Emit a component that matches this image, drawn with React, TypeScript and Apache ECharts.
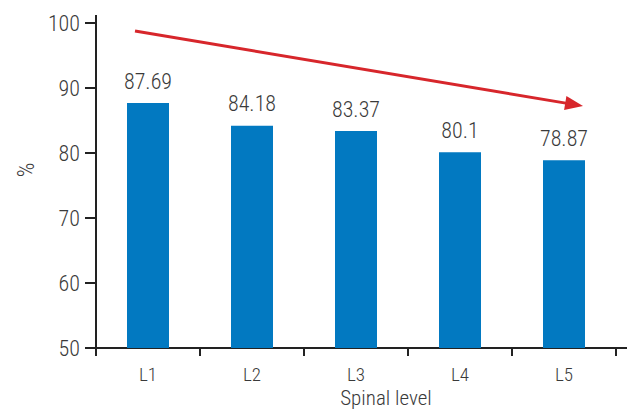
import React, { useEffect, useRef } from "react";
import * as echarts from "echarts";

const categories = ["L1", "L2", "L3", "L4", "L5"];
const values = [87.69, 84.18, 83.37, 80.1, 78.87];
const yTicks = { min: 50, max: 100, interval: 10 };

const FONT = "'Roboto Condensed', 'Liberation Sans', sans-serif";
const TEXT = "#3a3a3a";
const AXIS = "#222222";

export default function App() {
  const ref = useRef<HTMLDivElement>(null);
  useEffect(() => {
    if (!ref.current) return;
    const chart = echarts.init(ref.current, null, { renderer: "svg" });
    // arrow geometry
    const sx = 135, sy = 31, tx = 583, ty = 106;
    const dx = tx - sx, dy = ty - sy;
    const len = Math.sqrt(dx * dx + dy * dy);
    const ux = dx / len, uy = dy / len;
    const hl = 18, hw = 7;
    const bx = tx - ux * hl, by = ty - uy * hl;
    chart.setOption({
      animation: false,
      grid: { left: 96, right: 11, top: 23, bottom: 64 },
      xAxis: {
        type: "category",
        data: categories,
        axisLine: { lineStyle: { color: AXIS, width: 2 } },
        axisTick: { show: true, length: 8, lineStyle: { color: AXIS, width: 2 }, alignWithLabel: false },
        axisLabel: { color: TEXT, fontFamily: FONT, fontSize: 19, fontWeight: 300, margin: 17 },
      },
      yAxis: {
        type: "value",
        min: yTicks.min,
        max: yTicks.max,
        interval: yTicks.interval,
        splitLine: { show: false },
        axisLine: { show: true, lineStyle: { color: AXIS, width: 2 } },
        axisTick: { show: true, length: 11, lineStyle: { color: AXIS, width: 2 } },
        axisLabel: { color: TEXT, fontFamily: FONT, fontSize: 22, fontWeight: 300, margin: 16 },
      },
      series: [
        {
          type: "bar",
          data: values,
          barWidth: 42,
          itemStyle: { color: "#0279c1" },
          label: {
            show: true,
            position: "top",
            distance: 11,
            color: TEXT,
            fontFamily: FONT,
            fontSize: 22,
            fontWeight: 300,
          },
        },
      ],
      graphic: [
        { type: "line", shape: { x1: 96, y1: 15, x2: 96, y2: 24 }, style: { stroke: AXIS, lineWidth: 2 } },
        { type: "line", shape: { x1: 615, y1: 348, x2: 627, y2: 348 }, style: { stroke: AXIS, lineWidth: 2 } },
        {
          type: "line",
          shape: { x1: sx, y1: sy, x2: bx + ux * 2, y2: by + uy * 2 },
          style: { stroke: "#d7262b", lineWidth: 3 },
        },
        {
          type: "polygon",
          shape: {
            points: [
              [tx, ty],
              [bx - uy * hw, by + ux * hw],
              [bx + uy * hw, by - ux * hw],
            ],
          },
          style: { fill: "#d7262b" },
        },
        {
          type: "text",
          x: 386,
          y: 398,
          style: { text: "Spinal level", fill: TEXT, font: `300 21px ${FONT}`, align: "center", verticalAlign: "middle" },
        },
        {
          type: "text",
          x: 26,
          y: 170,
          rotation: Math.PI / 2,
          style: { text: "%", fill: TEXT, font: `300 23px ${FONT}`, align: "center", verticalAlign: "middle" },
        },
      ],
    });
    return () => chart.dispose();
  }, []);
  return <div ref={ref} style={{ width: 627, height: 412, position: "absolute", left: 0, top: 0 }} />;
}
